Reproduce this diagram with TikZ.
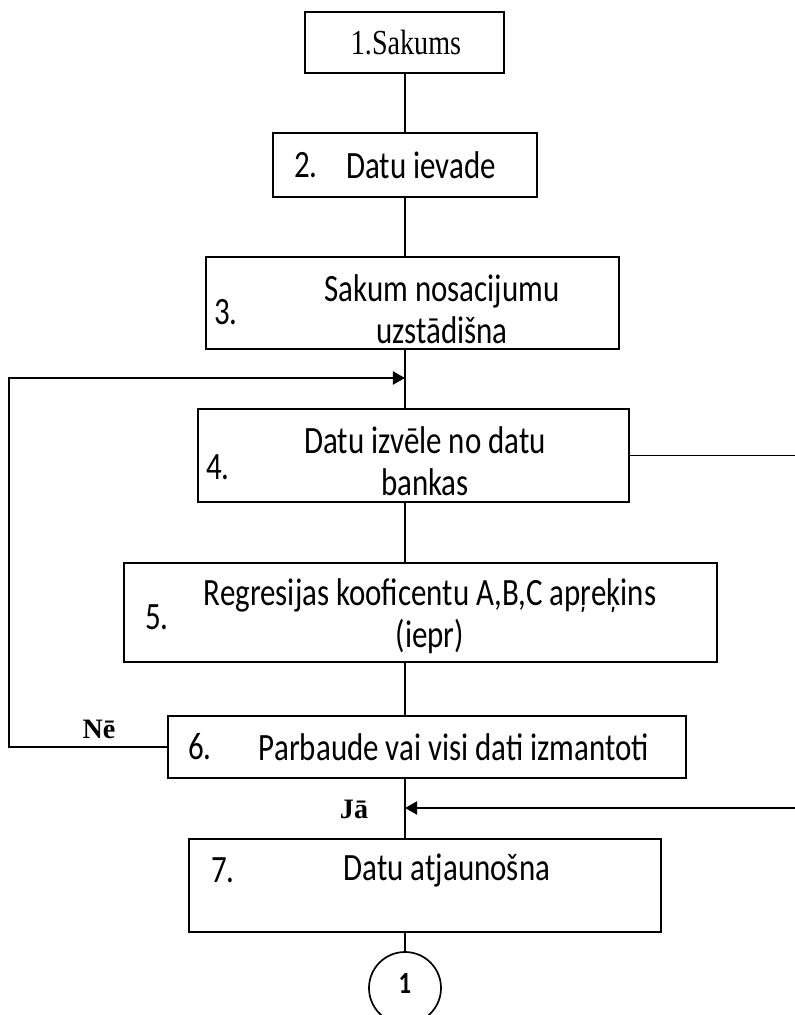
\documentclass[tikz,border=0pt]{standalone}
\usepackage{fontspec}
\setmainfont{Carlito}[FakeStretch=0.8]
\newfontfamily\romfont{Liberation Serif}[FakeStretch=0.8]
\newfontfamily\zimfont{Liberation Serif}
\usetikzlibrary{arrows.meta}

\tikzset{
  bloks/.style={draw,line width=1.2pt,inner sep=0pt},
  teksts/.style={align=center,font=\fontsize{27.5}{30}\selectfont},
  romteksts/.style={font=\romfont\fontsize{25}{28}\selectfont},
  zimteksts/.style={font=\zimfont\bfseries\fontsize{20}{24}\selectfont},
  linija/.style={line width=1.1pt},
  bulta/.style={line width=1.8pt,-{Triangle[length=0.3cm,width=0.32cm]}}
}

\begin{document}
\begin{tikzpicture}[x=0.025cm,y=-0.025cm]
  \useasboundingbox (0,0) rectangle (795,1015);
  % bloki
  \node[bloks,minimum width=4.975cm,minimum height=1.525cm] (b1) at (404.5,42.5) {};
  \node[bloks,minimum width=6.6cm,minimum height=1.6cm] (b2) at (405,165) {};
  \node[bloks,minimum width=10.325cm,minimum height=2.3cm] (b3) at (412.5,303) {};
  \node[bloks,minimum width=10.775cm,minimum height=2.325cm] (b4) at (413.5,455.5) {};
  \node[bloks,minimum width=14.825cm,minimum height=2.475cm] (b5) at (420.5,612.5) {};
  \node[bloks,minimum width=12.95cm,minimum height=1.55cm] (b6) at (427,747) {};
  \node[bloks,minimum width=11.8cm,minimum height=2.325cm] (b7) at (425,885.5) {};
  \node[draw,circle,line width=1.2pt,minimum size=1.8cm,inner sep=0pt] (c1) at (405,988) {};
  % teksti
  \node[font=\bfseries\fontsize{22}{24}\selectfont] (t8) at (405,983) {1};
  \node[romteksts] (t1) at (406,43) {1.Sakums};
  \node[teksts] (n2) at (306,165) {2.};
  \node[teksts] (t2) at (421,165) {Datu ievade};
  \node[teksts] (n3) at (226,312) {3.};
  \node[teksts] (t3) at (442,309) {Sakum nosacijumu\\uzstādišna};
  \node[teksts] (n4) at (218,467) {4.};
  \node[teksts] (t4) at (425,461) {Datu izvēle no datu\\bankas};
  \node[teksts] (n5) at (157,617) {5.};
  \node[teksts] (t5) at (430,616) {Regresijas kooficentu A,B,C apŗeķins\\(iepr)};
  \node[teksts] (n6) at (200,747) {6.};
  \node[teksts] (t6) at (454,747) {Parbaude vai visi dati izmantoti};
  \node[teksts] (n7) at (223,870) {7.};
  \node[teksts] (t7) at (447,870) {Datu atjaunošna};
  \node[zimteksts] (ne) at (99,729) {Nē};
  \node[zimteksts] (ja) at (354,809) {Jā};
  % savienojumi
  \coordinate (m4) at (405,378);
  \coordinate (m7) at (405,808);
  \coordinate (kreisi) at (9,378);
  \coordinate (labi4) at (795,455.5);
  \coordinate (labi7) at (795,808);
  \draw[linija] (b2.north |- b1.south) -- (b2.north);
  \draw[linija] (b2.south) -- (b2.south |- b3.north);
  \draw[linija] (b2.south |- b3.south) -- (b2.south |- b4.north);
  \draw[linija] (b2.south |- b4.south) -- (b2.south |- b5.north);
  \draw[linija] (b2.south |- b5.south) -- (b2.south |- b6.north);
  \draw[linija] (b2.south |- b6.south) -- (b2.south |- b7.north);
  \draw[linija] (b2.south |- b7.south) -- (c1.north);
  \draw[bulta] (b6.west) -| (kreisi) -- (m4);
  \draw[linija] (b4.east) -- (labi4);
  \draw[bulta] (labi7) -- (m7);
\end{tikzpicture}
\end{document}
